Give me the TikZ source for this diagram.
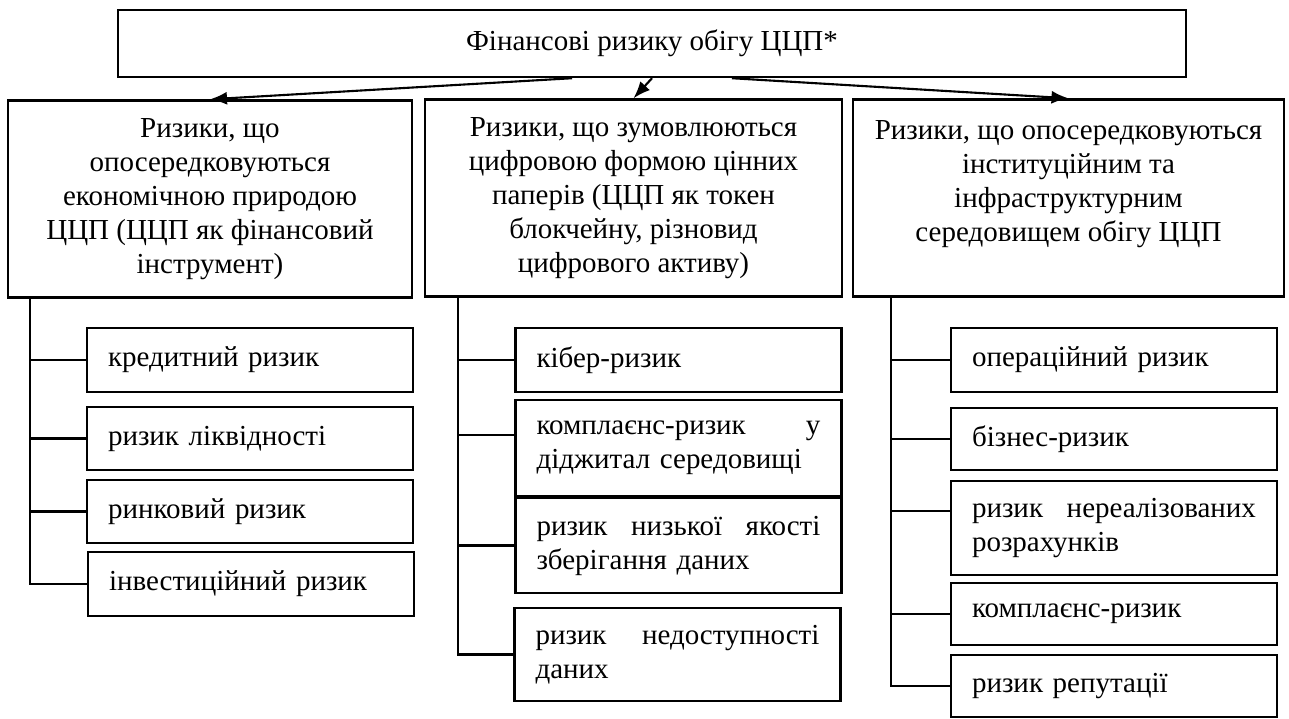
\documentclass[tikz,border=0pt]{standalone}
\usepackage{fontspec}
\setmainfont{Liberation Serif}
\usepackage{tikz}
\usetikzlibrary{arrows.meta}
\usetikzlibrary{positioning}

\begin{document}
\begin{tikzpicture}[x=0.02cm,y=-0.02cm]
  \tikzset{topbox/.style = {shape=rectangle,draw,line width=1.4pt,minimum width=21.36cm,minimum height=1.34cm,font=\fontsize{16.5pt}{19.35pt}\selectfont}}
  \tikzset{groupbox/.style = {shape=rectangle,draw,line width=1.4pt,minimum height=3.94cm,align=center,inner sep=0pt,font=\fontsize{16.5pt}{19.35pt}\selectfont}}
  \tikzset{riskbox/.style = {shape=rectangle,draw,line width=1.4pt,text width=5.68cm,inner xsep=0.42cm,inner ysep=0pt,align=left,font=\fontsize{16.5pt}{19.35pt}\selectfont}}
  \tikzset{link/.style = {line width=1.4pt}}
  \tikzset{edge/.style = {line width=1.2pt,-{Latex[length=0.34cm,width=0.26cm]}}}

  \useasboundingbox (0,0) rectangle (1289,718);

	\node[topbox] (F) at (652,43.5) {Фінансові ризику обігу ЦЦП*};

	\node[groupbox,minimum width=8.08cm] (G1) at (210,199) {Ризики, що\\опосередковуються\\економічною природою\\ЦЦП (ЦЦП як фінансовий\\інструмент)};
	\node[groupbox,minimum width=8.34cm] (G2) at (633.5,198) {Ризики, що зумовлюються\\цифровою формою цінних\\паперів (ЦЦП як токен\\блокчейну, різновид\\цифрового активу)};
	\node[groupbox,minimum width=8.62cm] (G3) at (1068.5,198) {Ризики, що опосередковуються\\інституційним та\\інфраструктурним\\середовищем обігу ЦЦП\\\mbox{}};

	\node[riskbox,minimum height=1.28cm] (E1) at (250,360) {кредитний ризик};
	\node[riskbox,minimum height=1.26cm] (E2) at (250,438.5) {ризик ліквідності};
	\node[riskbox,minimum height=1.26cm] (E3) at (250,511.5) {ринковий ризик};
	\node[riskbox,minimum height=1.28cm] (E4) at (251,584) {інвестиційний ризик};

	\node[riskbox,minimum height=1.28cm] (D1) at (678.5,360) {кібер-ризик};
	\node[riskbox,minimum height=1.92cm] (D2) at (678.5,448) {комплаєнс-ризик\hfill у\\діджитал середовищі};
	\node[riskbox,minimum height=1.9cm] (D3) at (678.5,545.5) {ризик\hfill низької\hfill якості\\зберігання даних};
	\node[riskbox,minimum height=1.86cm] (D4) at (677.5,654.5) {ризик\hfill недоступності\\даних};

	\node[riskbox,minimum height=1.28cm] (I1) at (1114,360) {операційний ризик};
	\node[riskbox,minimum height=1.24cm] (I2) at (1114,439) {бізнес-ризик};
	\node[riskbox,minimum height=1.88cm] (I3) at (1114,528) {ризик\hfill нереалізованих\\розрахунків};
	\node[riskbox,minimum height=1.24cm] (I4) at (1114,614) {комплаєнс-ризик};
	\node[riskbox,minimum height=1.24cm] (I5) at (1114,686) {ризик репутації};

	% arrows from the top box
	\coordinate (a1) at ([xshift=-1.6cm]F.south);
	\coordinate (a3) at ([xshift=1.6cm]F.south);
    \foreach \from/\to in {a1/G1,F.south/G2,a3/G3}
    \path[edge](\from) edge (\to.north);

	% trunks
	\coordinate (t1) at ([xshift=0.46cm]G1.south west);
	\coordinate (t2) at ([xshift=0.68cm]G2.south west);
	\coordinate (t3) at ([xshift=0.78cm]G3.south west);
    \draw[link] (t1) |- (E4.west);
    \draw[link] (t2) |- (D4.west);
    \draw[link] (t3) |- (I5.west);

    \foreach \from/\to/\dy in {t1/E1/0,t1/E2/0,t1/E3/0,t2/D1/0,t2/D2/0.26,t2/D3/0,t3/I1/0,t3/I2/0,t3/I3/0.34,t3/I4/0}
    \path[link]([yshift=\dy cm]\from |- \to.west) edge ([yshift=\dy cm]\to.west);

\end{tikzpicture}
\end{document}
